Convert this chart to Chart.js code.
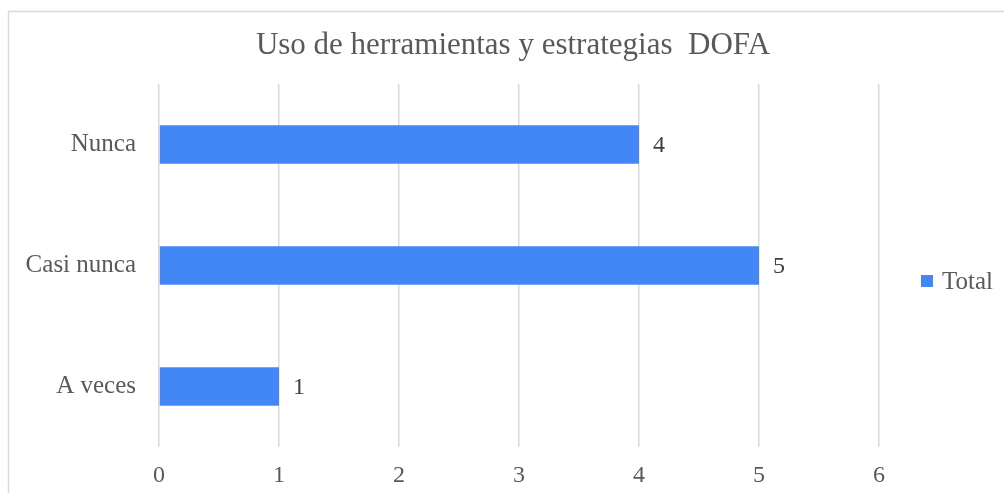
<!DOCTYPE html>
<html>
<head>
<meta charset="utf-8">
<script src="https://cdn.jsdelivr.net/npm/chart.js@4.4.1/dist/chart.umd.min.js"></script>
<style>
  html, body { margin: 0; padding: 0; background: #ffffff; }
  #wrap { width: 1004px; height: 493px; position: relative; }
</style>
</head>
<body>
<div id="wrap"><canvas id="c" width="1004" height="493"></canvas></div>
<script>
const titleText = "Uso de herramientas y estrategias  DOFA";
const categories = ["Nunca", "Casi nunca", "A veces"];
const seriesName = "Total";
const totalValues = [4, 5, 1];
const xTickLabels = ["0", "1", "2", "3", "4", "5", "6"];

const FONT = "'Liberation Serif', 'Times New Roman', serif";
const TEXT = "#595959";
const BAR = "#4287f5";
const GRID = "#d9d9d9";

const frame = {
  id: "frame",
  beforeDraw(chart) {
    const ctx = chart.ctx;
    ctx.save();
    ctx.fillStyle = "#ffffff";
    ctx.fillRect(0, 0, chart.width, chart.height);
    ctx.strokeStyle = GRID;
    ctx.lineWidth = 1.5;
    ctx.beginPath();
    ctx.moveTo(8.5, chart.height);
    ctx.lineTo(8.5, 11.5);
    ctx.lineTo(chart.width, 11.5);
    ctx.stroke();
    ctx.restore();
  }
};

const labelsAndLegend = {
  id: "labelsAndLegend",
  afterDatasetsDraw(chart) {
    const ctx = chart.ctx;
    ctx.save();
    ctx.font = "24px " + FONT;
    ctx.fillStyle = "#404040";
    ctx.textAlign = "left";
    ctx.textBaseline = "middle";
    const meta = chart.getDatasetMeta(0);
    meta.data.forEach((bar, i) => {
      const p = bar.getProps(["x", "y"], true);
      ctx.fillText(String(chart.data.datasets[0].data[i]), p.x + 14, p.y + 1);
    });
    // legend
    const ds = chart.data.datasets[0];
    ctx.fillStyle = ds.backgroundColor;
    ctx.fillRect(921, 275, 12, 12);
    ctx.fillStyle = TEXT;
    ctx.font = "25px " + FONT;
    ctx.fillText(ds.label, 942, 282);
    ctx.restore();
  }
};

new Chart(document.getElementById("c"), {
  type: "bar",
  data: {
    labels: categories,
    datasets: [{
      label: seriesName,
      data: totalValues,
      backgroundColor: BAR,
      borderWidth: 0,
      categoryPercentage: 1.0,
      barPercentage: 0.32
    }]
  },
  options: {
    indexAxis: "y",
    responsive: false,
    animation: false,
    events: [],
    layout: { padding: { left: 22, right: 0, top: 0, bottom: 0 } },
    plugins: {
      legend: { display: false },
      tooltip: { enabled: false },
      title: {
        display: true,
        text: titleText,
        color: TEXT,
        font: { family: FONT, size: 31, weight: "normal" },
        padding: { top: 27, bottom: 19.8 }
      }
    },
    scales: {
      x: {
        min: 0,
        max: 6,
        ticks: {
          stepSize: 1,
          color: TEXT,
          padding: 14,
          font: { family: FONT, size: 24 },
          callback: (v, i) => xTickLabels[i]
        },
        grid: { color: GRID, lineWidth: 1.5, drawTicks: false },
        border: { display: false },
        afterFit(scale) { scale.height = 46; }
      },
      y: {
        ticks: {
          color: TEXT,
          padding: 23,
          font: { family: FONT, size: 25 }
        },
        grid: { display: false, drawTicks: false },
        border: { display: false },
        afterFit(scale) { scale.width = 137; }
      },
      legendSpace: {
        type: "category",
        position: "right",
        axis: "y",
        ticks: { display: false },
        grid: { display: false, drawTicks: false },
        border: { display: false },
        afterFit(scale) { scale.width = 125; }
      }
    }
  },
  plugins: [frame, labelsAndLegend]
});
</script>
</body>
</html>
